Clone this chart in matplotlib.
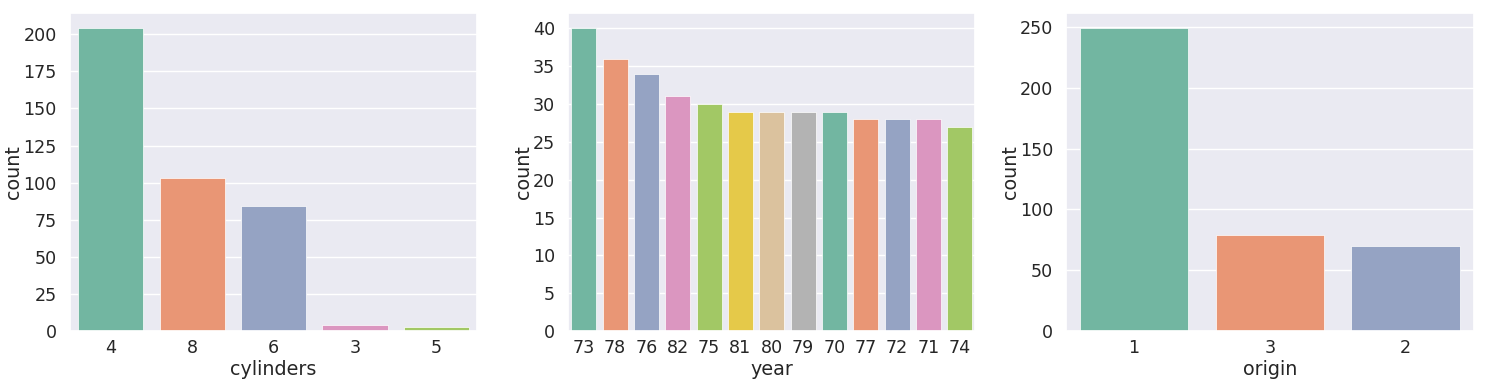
import numpy as np
import matplotlib
matplotlib.use("Agg")
import matplotlib.pyplot as plt
import seaborn as sns

# value counts (auto-mpg)
cyl_labels = ["4", "8", "6", "3", "5"]
cyl_counts = [204, 103, 84, 4, 3]

year_labels = ["73", "78", "76", "82", "75", "81", "80", "79", "70", "77", "72", "71", "74"]
year_counts = [40, 36, 34, 31, 30, 29, 29, 29, 29, 28, 28, 28, 27]

origin_labels = ["1", "3", "2"]
origin_counts = [249, 79, 70]

sns.set_theme(style="darkgrid", font_scale=1.15)
pal = [sns.desaturate(c, 0.75) for c in sns.color_palette("Set2")]

fig, axes = plt.subplots(1, 3, figsize=(14.87, 3.85), dpi=100)
fig.subplots_adjust(left=0.047, right=0.991, top=0.966, bottom=0.14, wspace=0.223)

panels = [(cyl_labels, cyl_counts, "cylinders"),
          (year_labels, year_counts, "year"),
          (origin_labels, origin_counts, "origin")]

for ax, (labels, counts, name) in zip(axes, panels):
    x = np.arange(len(labels))
    colors = [pal[i % len(pal)] for i in range(len(labels))]
    ax.bar(x, counts, width=0.8, color=colors, edgecolor="white", linewidth=0.5)
    ax.set_xticks(x)
    ax.set_xticklabels(labels)
    ax.set_xlim(-0.5, len(labels) - 0.5)
    ax.tick_params(axis="x", length=0, pad=6)
    ax.set_xlabel(name, labelpad=2)
    ax.set_ylabel("count", labelpad=0)
    ax.grid(axis="x", visible=False)

axes[0].set_yticks(range(0, 201, 25))
axes[1].set_yticks(range(0, 41, 5))
axes[2].set_yticks(range(0, 251, 50))

plt.savefig("out.png")
